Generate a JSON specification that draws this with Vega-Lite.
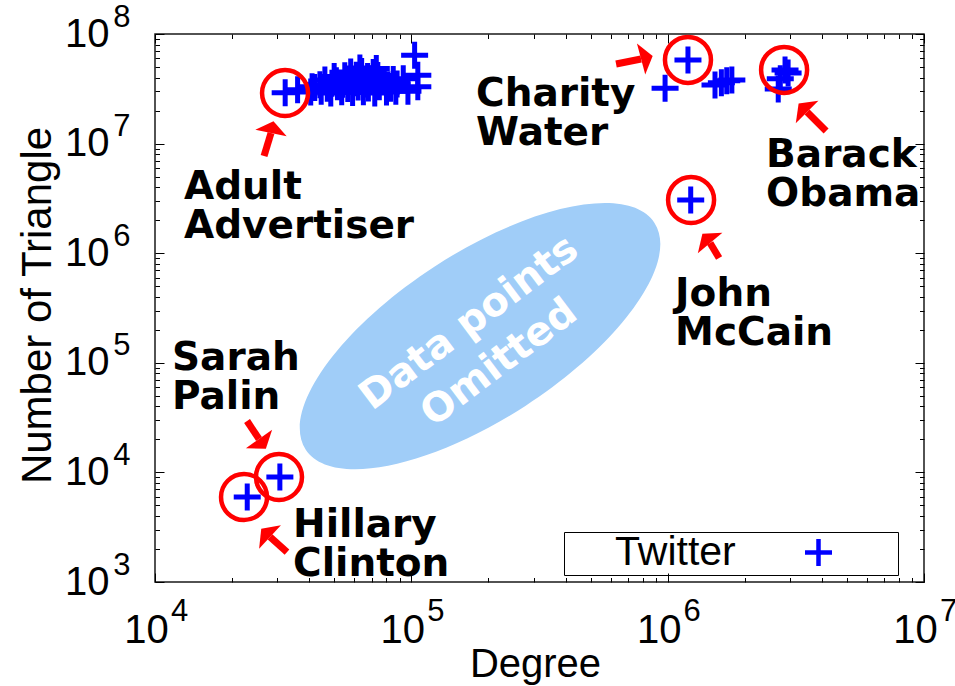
{
  "$schema": "https://vega.github.io/schema/vega-lite/v6.json",
  "width": 769,
  "height": 548,
  "autosize": {"type": "none"},
  "padding": {"left": 155, "top": 34, "right": 31, "bottom": 104},
  "background": "white",
  "datasets": {
    "points": [
      {"x": 32200, "y": 29100000, "series": "Twitter"},
      {"x": 36000, "y": 31000000, "series": "Twitter"},
      {"x": 40500, "y": 29500000, "series": "Twitter"},
      {"x": 44500, "y": 30000000, "series": "Twitter"},
      {"x": 48500, "y": 29000000, "series": "Twitter"},
      {"x": 53500, "y": 29700000, "series": "Twitter"},
      {"x": 59000, "y": 29200000, "series": "Twitter"},
      {"x": 65000, "y": 29800000, "series": "Twitter"},
      {"x": 72000, "y": 29000000, "series": "Twitter"},
      {"x": 80000, "y": 29500000, "series": "Twitter"},
      {"x": 87000, "y": 30000000, "series": "Twitter"},
      {"x": 42000, "y": 32500000, "series": "Twitter"},
      {"x": 47000, "y": 32000000, "series": "Twitter"},
      {"x": 51500, "y": 33000000, "series": "Twitter"},
      {"x": 56500, "y": 31800000, "series": "Twitter"},
      {"x": 62000, "y": 32800000, "series": "Twitter"},
      {"x": 68000, "y": 32200000, "series": "Twitter"},
      {"x": 75000, "y": 33000000, "series": "Twitter"},
      {"x": 83000, "y": 32000000, "series": "Twitter"},
      {"x": 41000, "y": 33000000, "series": "Twitter"},
      {"x": 44000, "y": 34500000, "series": "Twitter"},
      {"x": 49000, "y": 35500000, "series": "Twitter"},
      {"x": 54000, "y": 34800000, "series": "Twitter"},
      {"x": 59500, "y": 36000000, "series": "Twitter"},
      {"x": 66000, "y": 35000000, "series": "Twitter"},
      {"x": 73000, "y": 35500000, "series": "Twitter"},
      {"x": 81000, "y": 34500000, "series": "Twitter"},
      {"x": 88000, "y": 35000000, "series": "Twitter"},
      {"x": 46000, "y": 38000000, "series": "Twitter"},
      {"x": 51000, "y": 37500000, "series": "Twitter"},
      {"x": 57000, "y": 38500000, "series": "Twitter"},
      {"x": 63000, "y": 38000000, "series": "Twitter"},
      {"x": 69500, "y": 39000000, "series": "Twitter"},
      {"x": 77000, "y": 37800000, "series": "Twitter"},
      {"x": 85000, "y": 38500000, "series": "Twitter"},
      {"x": 50000, "y": 41000000, "series": "Twitter"},
      {"x": 55000, "y": 41500000, "series": "Twitter"},
      {"x": 61000, "y": 42000000, "series": "Twitter"},
      {"x": 67500, "y": 41000000, "series": "Twitter"},
      {"x": 74000, "y": 41800000, "series": "Twitter"},
      {"x": 58000, "y": 45000000, "series": "Twitter"},
      {"x": 64000, "y": 45500000, "series": "Twitter"},
      {"x": 71000, "y": 44500000, "series": "Twitter"},
      {"x": 63000, "y": 49000000, "series": "Twitter"},
      {"x": 73000, "y": 48500000, "series": "Twitter"},
      {"x": 93000, "y": 39000000, "series": "Twitter"},
      {"x": 97000, "y": 30000000, "series": "Twitter"},
      {"x": 103000, "y": 64000000, "series": "Twitter"},
      {"x": 106000, "y": 42000000, "series": "Twitter"},
      {"x": 106000, "y": 33000000, "series": "Twitter"},
      {"x": 977000, "y": 32000000, "series": "Twitter"},
      {"x": 1200000, "y": 58000000, "series": "Twitter"},
      {"x": 1530000, "y": 34300000, "series": "Twitter"},
      {"x": 1620000, "y": 36000000, "series": "Twitter"},
      {"x": 1700000, "y": 37500000, "series": "Twitter"},
      {"x": 1780000, "y": 38000000, "series": "Twitter"},
      {"x": 2870000, "y": 47000000, "series": "Twitter"},
      {"x": 2950000, "y": 44000000, "series": "Twitter"},
      {"x": 2750000, "y": 39000000, "series": "Twitter"},
      {"x": 2700000, "y": 31500000, "series": "Twitter"},
      {"x": 1230000, "y": 3060000, "series": "Twitter"},
      {"x": 30700, "y": 9080, "series": "Twitter"},
      {"x": 22900, "y": 5970, "series": "Twitter"}
    ],
    "circles": [
      {"name": "Adult Advertiser", "x": 32160, "y": 28950000},
      {"name": "Charity Water", "x": 1200000, "y": 58000000},
      {"name": "Barack Obama", "x": 2846000, "y": 47000000},
      {"name": "John McCain", "x": 1234000, "y": 3060000},
      {"name": "Sarah Palin", "x": 30460, "y": 9080},
      {"name": "Hillary Clinton", "x": 22250, "y": 5960}
    ],
    "arrows": [
      {"name": "Adult Advertiser", "x": 26630, "y": 7710000, "x2": 28350, "y2": 12500000, "heading": 12},
      {"name": "Charity Water", "x": 629000, "y": 53250000, "x2": 787600, "y2": 59140000, "heading": 75},
      {"name": "Barack Obama", "x": 4150000, "y": 13030000, "x2": 3499000, "y2": 19420000, "heading": 315},
      {"name": "John McCain", "x": 1587000, "y": 904000, "x2": 1464000, "y2": 1239000, "heading": 320},
      {"name": "Sarah Palin", "x": 22860, "y": 29440, "x2": 25450, "y2": 20170, "heading": 145},
      {"name": "Hillary Clinton", "x": 32730, "y": 1878, "x2": 28100, "y2": 2574, "heading": 313}
    ],
    "labels": [
      {"x": 12970, "y": 3123000, "label": "Adult\nAdvertiser"},
      {"x": 178800, "y": 22030000, "label": "Charity\nWater"},
      {"x": 2421000, "y": 6116000, "label": "Barack\nObama"},
      {"x": 1069000, "y": 329800, "label": "John\nMcCain"},
      {"x": 11650, "y": 86000, "label": "Sarah\nPalin"},
      {"x": 34550, "y": 2574, "label": "Hillary\nClinton"}
    ],
    "ellipse": [
      {"x": 185400, "y": 175000}
    ],
    "omitted": [
      {"x": 168000, "y": 230700, "label": "Data points\nOmitted"}
    ]
  },
  "layer": [
    {
      "data": {"name": "ellipse"},
      "mark": {"type": "point", "shape": "M-1,0A1,0.4,0,1,1,1,0A1,0.4,0,1,1,-1,0Z", "size": 173056, "filled": true, "color": "#a0cdf8", "opacity": 1, "strokeWidth": 0, "angle": 327},
      "encoding": {
        "x": {"field": "x", "type": "quantitative", "scale": {"type": "log", "domain": [10000, 10000000], "nice": false},
          "axis": {"orient": "bottom", "values": [10000, 100000, 1000000, 10000000], "labels": false, "title": null, "tickSize": -9}},
        "y": {"field": "y", "type": "quantitative", "scale": {"type": "log", "domain": [1000, 100000000], "nice": false},
          "axis": {"orient": "left", "values": [1000, 10000, 100000, 1000000, 10000000, 100000000], "labels": false, "title": null, "tickSize": -9}}
      }
    },
    {
      "data": {"name": "omitted"},
      "mark": {"type": "text", "font": "DejaVu Sans", "fontWeight": "bold", "fontSize": 40, "align": "center", "baseline": "middle", "lineBreak": "\n", "lineHeight": 50, "angle": 323, "color": "#ffffff"},
      "encoding": {
        "x": {"field": "x", "type": "quantitative", "scale": {"type": "log", "domain": [10000, 10000000], "nice": false},
          "axis": {"orient": "bottom", "values": [20000, 30000, 40000, 50000, 60000, 70000, 80000, 90000, 200000, 300000, 400000, 500000, 600000, 700000, 800000, 900000, 2000000, 3000000, 4000000, 5000000, 6000000, 7000000, 8000000, 9000000], "labels": false, "title": null, "tickSize": -4.5}},
        "y": {"field": "y", "type": "quantitative", "scale": {"type": "log", "domain": [1000, 100000000], "nice": false},
          "axis": {"orient": "left", "values": [2000, 3000, 4000, 5000, 6000, 7000, 8000, 9000, 20000, 30000, 40000, 50000, 60000, 70000, 80000, 90000, 200000, 300000, 400000, 500000, 600000, 700000, 800000, 900000, 2000000, 3000000, 4000000, 5000000, 6000000, 7000000, 8000000, 9000000, 20000000, 30000000, 40000000, 50000000, 60000000, 70000000, 80000000, 90000000], "labels": false, "title": null, "tickSize": -4.5}},
        "text": {"field": "label"}
      }
    },
    {
      "data": {"name": "points"},
      "mark": {"type": "point", "shape": "M-1,0H1M0,-1V1", "size": 729, "filled": false, "strokeWidth": 5, "opacity": 1},
      "encoding": {
        "x": {"field": "x", "type": "quantitative", "scale": {"type": "log", "domain": [10000, 10000000], "nice": false},
          "axis": {"orient": "bottom", "values": [10000, 100000, 1000000, 10000000], "labelExpr": "'10'", "ticks": false, "tickSize": 0, "labelPadding": 60, "labelBaseline": "alphabetic", "labelAlign": "center", "labelFontSize": 40, "labelOffset": -9,
            "title": "Degree", "titleFontSize": 40, "titleX": 380, "titleY": 94, "titleBaseline": "alphabetic", "titleAlign": "center", "titleAngle": 0}},
        "y": {"field": "y", "type": "quantitative", "scale": {"type": "log", "domain": [1000, 100000000], "nice": false},
          "axis": {"orient": "left", "values": [1000, 10000, 100000, 1000000, 10000000, 100000000], "labelExpr": "'10'", "ticks": false, "tickSize": 0, "labelPadding": 46, "labelAlign": "right", "labelBaseline": "alphabetic", "labelOffset": 12, "labelFontSize": 40,
            "title": "Number of Triangle", "titleFontSize": 42, "titleX": -105, "titleY": 271, "titleAngle": 270, "titleBaseline": "alphabetic", "titleAlign": "center"}},
        "color": {"field": "series", "type": "nominal", "scale": {"domain": ["Twitter"], "range": ["#0000ff"]},
          "legend": {"orient": "none", "legendX": 409, "legendY": 498, "title": null, "symbolType": "M-1,0H1M0,-1V1", "symbolSize": 729, "symbolStrokeWidth": 4.5, "labelFont": "Liberation Sans", "labelFontSize": 41, "labelColor": "#000000", "strokeColor": "#000000", "padding": 0, "labelOffset": -224, "symbolOffset": 234, "labelLimit": 600, "labelExpr": "datum.label + '\u2800\u2800\u2800\u2800\u00a0\u2800'"}}
      }
    },
    {
      "data": {"name": "circles"},
      "mark": {"type": "point", "shape": "circle", "size": 2116, "filled": false, "color": "#ff0000", "strokeWidth": 4.5, "opacity": 1},
      "encoding": {
        "x": {"field": "x", "type": "quantitative", "scale": {"type": "log", "domain": [10000, 10000000], "nice": false},
          "axis": {"orient": "bottom", "values": [10000, 100000, 1000000, 10000000], "labelExpr": "format(log(datum.value)/LN10, '.0f')", "ticks": false, "tickSize": 0, "labelPadding": 38, "labelBaseline": "alphabetic", "labelAlign": "center", "labelFontSize": 31, "labelOffset": 24, "title": null}},
        "y": {"field": "y", "type": "quantitative", "scale": {"type": "log", "domain": [1000, 100000000], "nice": false},
          "axis": {"orient": "left", "values": [1000, 10000, 100000, 1000000, 10000000, 100000000], "labelExpr": "format(log(datum.value)/LN10, '.0f')", "ticks": false, "tickSize": 0, "labelPadding": 25, "labelAlign": "right", "labelBaseline": "alphabetic", "labelOffset": -8, "labelFontSize": 31, "title": null}}
      }
    },
    {
      "data": {"name": "arrows"},
      "mark": {"type": "rule", "color": "#ff0000", "strokeWidth": 7},
      "encoding": {
        "x": {"field": "x", "type": "quantitative", "scale": {"type": "log", "domain": [10000, 10000000], "nice": false},
          "axis": {"orient": "top", "values": [10000, 100000, 1000000, 10000000], "labels": false, "title": null, "tickSize": -9}},
        "y": {"field": "y", "type": "quantitative", "scale": {"type": "log", "domain": [1000, 100000000], "nice": false},
          "axis": {"orient": "right", "values": [1000, 10000, 100000, 1000000, 10000000, 100000000], "labels": false, "title": null, "tickSize": -9}},
        "x2": {"field": "x2"},
        "y2": {"field": "y2"}
      }
    },
    {
      "data": {"name": "arrows"},
      "mark": {"type": "point", "shape": "M0,-0.75L1,0L-1,0Z", "size": 1024, "filled": true, "color": "#ff0000", "strokeWidth": 0, "opacity": 1},
      "encoding": {
        "x": {"field": "x2", "type": "quantitative", "scale": {"type": "log", "domain": [10000, 10000000], "nice": false},
          "axis": {"orient": "top", "values": [20000, 30000, 40000, 50000, 60000, 70000, 80000, 90000, 200000, 300000, 400000, 500000, 600000, 700000, 800000, 900000, 2000000, 3000000, 4000000, 5000000, 6000000, 7000000, 8000000, 9000000], "labels": false, "title": null, "tickSize": -4.5}},
        "y": {"field": "y2", "type": "quantitative", "scale": {"type": "log", "domain": [1000, 100000000], "nice": false},
          "axis": {"orient": "right", "values": [2000, 3000, 4000, 5000, 6000, 7000, 8000, 9000, 20000, 30000, 40000, 50000, 60000, 70000, 80000, 90000, 200000, 300000, 400000, 500000, 600000, 700000, 800000, 900000, 2000000, 3000000, 4000000, 5000000, 6000000, 7000000, 8000000, 9000000, 20000000, 30000000, 40000000, 50000000, 60000000, 70000000, 80000000, 90000000], "labels": false, "title": null, "tickSize": -4.5}},
        "angle": {"field": "heading", "type": "quantitative", "scale": null}
      }
    },
    {
      "data": {"name": "labels"},
      "mark": {"type": "text", "font": "DejaVu Sans", "fontWeight": "bold", "fontSize": 39, "align": "left", "baseline": "alphabetic", "lineBreak": "\n", "lineHeight": 39, "color": "#000000"},
      "encoding": {
        "x": {"field": "x", "type": "quantitative", "scale": {"type": "log", "domain": [10000, 10000000], "nice": false}, "axis": null},
        "y": {"field": "y", "type": "quantitative", "scale": {"type": "log", "domain": [1000, 100000000], "nice": false}, "axis": null},
        "text": {"field": "label"}
      }
    }
  ],
  "resolve": {"axis": {"x": "independent", "y": "independent"}},
  "config": {
    "view": {"stroke": "#1a1a1a", "strokeWidth": 1.5},
    "axis": {"domain": false, "grid": false, "tickColor": "#000000", "tickWidth": 1, "labelColor": "#000000", "titleColor": "#000000", "labelFont": "Liberation Sans", "titleFont": "Liberation Sans", "titleFontWeight": "normal", "labelFlush": false, "labelOverlap": false}
  }
}
